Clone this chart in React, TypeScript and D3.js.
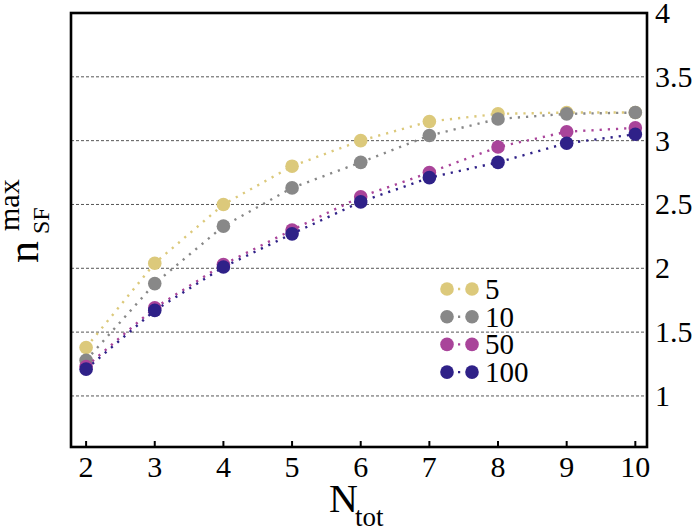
import { useRef, useEffect } from "react";
import * as d3 from "d3";

const nTot = [2, 3, 4, 5, 6, 7, 8, 9, 10];
const seriesNames = ["5", "10", "50", "100"];
const seriesColors = ["#dcc97b", "#888888", "#a9449a", "#2f2188"];
const values5 = [1.38, 2.04, 2.5, 2.8, 3.0, 3.15, 3.21, 3.22, 3.22];
const values10 = [1.28, 1.88, 2.33, 2.63, 2.83, 3.04, 3.17, 3.21, 3.22];
const values50 = [1.23, 1.69, 2.03, 2.3, 2.56, 2.75, 2.95, 3.07, 3.1];
const values100 = [1.21, 1.67, 2.01, 2.27, 2.52, 2.71, 2.83, 2.98, 3.05];
const yTicks = [1, 1.5, 2, 2.5, 3, 3.5, 4];
const gridValues = [1, 1.5, 2, 2.5, 3, 3.5];

const allSeries = [values5, values10, values50, values100];

const WIDTH = 697;
const HEIGHT = 530;
const FONT = "Liberation Serif";

export default function App() {
  const svgRef = useRef<SVGSVGElement>(null);

  useEffect(() => {
    if (!svgRef.current) return;
    const svg = d3.select(svgRef.current);
    svg.selectAll("*").remove();

    const left = 71;
    const right = 647;
    const top = 13;
    const bottom = 447;

    const x = d3.scaleLinear().domain([1.78, 10.17]).range([left, right]);
    const y = d3.scaleLinear().domain([0.6, 4]).range([bottom, top]);

    // dashed grid
    svg
      .append("g")
      .selectAll("line")
      .data(gridValues)
      .join("line")
      .attr("x1", left)
      .attr("x2", right)
      .attr("y1", (d) => y(d))
      .attr("y2", (d) => y(d))
      .attr("stroke", "#444")
      .attr("stroke-width", 0.9)
      .attr("stroke-dasharray", "3 2");

    // series lines + markers
    const line = d3
      .line<number>()
      .x((_, i) => x(nTot[i]))
      .y((d) => y(d));

    allSeries.forEach((vals, si) => {
      const g = svg.append("g");
      g.append("path")
        .datum(vals)
        .attr("fill", "none")
        .attr("stroke", seriesColors[si])
        .attr("stroke-width", 2.4)
        .attr("stroke-dasharray", "2.2 6")
        .attr("d", line);
      g.selectAll("circle")
        .data(vals)
        .join("circle")
        .attr("cx", (_, i) => x(nTot[i]))
        .attr("cy", (d) => y(d))
        .attr("r", 6.8)
        .attr("fill", seriesColors[si]);
    });

    // frame
    svg
      .append("rect")
      .attr("x", left)
      .attr("y", top)
      .attr("width", right - left)
      .attr("height", bottom - top)
      .attr("fill", "none")
      .attr("stroke", "#000")
      .attr("stroke-width", 2.6);

    // x axis ticks (inward) and labels
    const xAxis = svg.append("g");
    xAxis
      .selectAll("line")
      .data(nTot)
      .join("line")
      .attr("x1", (d) => x(d))
      .attr("x2", (d) => x(d))
      .attr("y1", bottom)
      .attr("y2", bottom - 6)
      .attr("stroke", "#000")
      .attr("stroke-width", 2);
    xAxis
      .selectAll("text")
      .data(nTot)
      .join("text")
      .attr("x", (d) => x(d))
      .attr("y", bottom + 30)
      .attr("text-anchor", "middle")
      .style("font-family", FONT)
      .attr("font-size", 30)
      .attr("fill", "#000")
      .text((d) => String(d));

    // y labels on the right
    svg
      .append("g")
      .selectAll("text")
      .data(yTicks)
      .join("text")
      .attr("x", right + 8)
      .attr("y", (d) => y(d) + 10)
      .style("font-family", FONT)
      .attr("font-size", 30)
      .attr("fill", "#000")
      .text((d) => String(d));

    // x title
    const xt = svg
      .append("text")
      .style("font-family", FONT)
      .attr("fill", "#000");
    xt.append("tspan").attr("x", 329).attr("y", 512).attr("font-size", 40).text("N");
    xt.append("tspan").attr("x", 355).attr("y", 526).attr("font-size", 27).text("tot");

    // y title (rotated)
    const yt = svg
      .append("text")
      .attr("transform", "rotate(-90)")
      .style("font-family", FONT)
      .attr("fill", "#000");
    yt.append("tspan").attr("x", -263).attr("y", 38).attr("font-size", 44).text("n");
    yt.append("tspan").attr("x", -234).attr("y", 49).attr("font-size", 24).text("SF");
    yt.append("tspan").attr("x", -231).attr("y", 19).attr("font-size", 30).text("max");

    // legend
    const legend = svg.append("g");
    seriesNames.forEach((name, i) => {
      const ly = 289 + i * 27.7;
      const row = legend.append("g");
      row
        .append("line")
        .attr("x1", 447)
        .attr("x2", 472)
        .attr("y1", ly)
        .attr("y2", ly)
        .attr("stroke", seriesColors[i])
        .attr("stroke-width", 2.4)
        .attr("stroke-dasharray", "0 11 2.2 20");
      row.append("circle").attr("cx", 447).attr("cy", ly).attr("r", 6.8).attr("fill", seriesColors[i]);
      row.append("circle").attr("cx", 472).attr("cy", ly).attr("r", 6.8).attr("fill", seriesColors[i]);
      row
        .append("text")
        .attr("x", 485)
        .attr("y", ly + 10)
        .style("font-family", FONT)
        .attr("font-size", 29)
        .attr("fill", "#000")
        .text(name);
    });
  }, []);

  return (
    <div style={{ position: "absolute", left: 0, top: 0 }}>
      <svg
        ref={svgRef}
        width={WIDTH}
        height={HEIGHT}
        style={{ display: "block", background: "#fff" }}
      />
    </div>
  );
}
